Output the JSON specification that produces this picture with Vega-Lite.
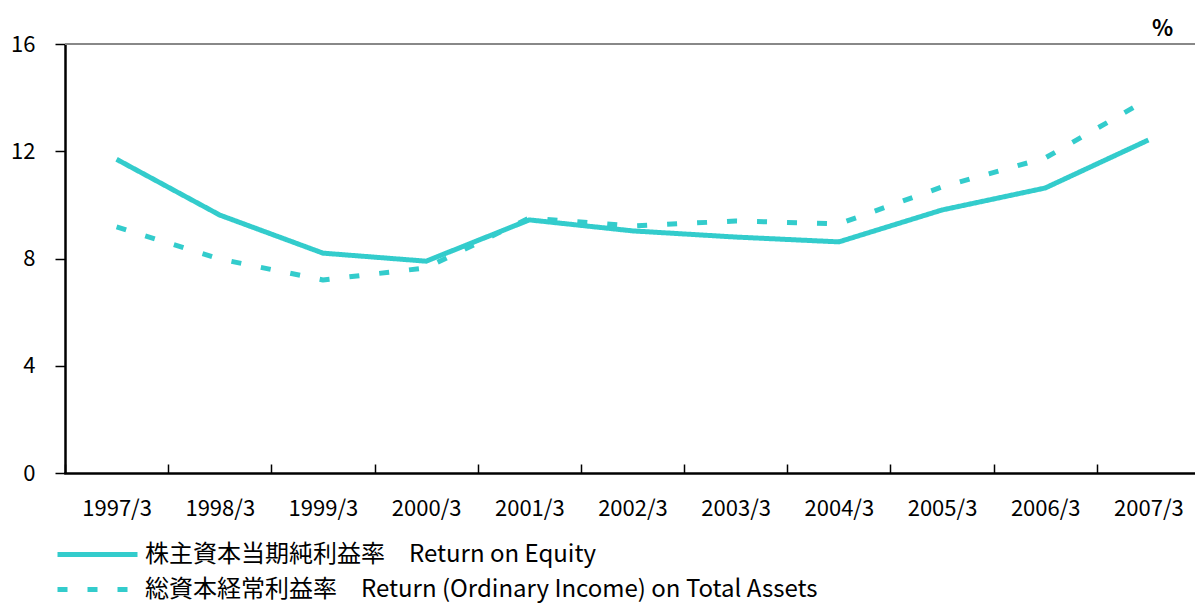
{
  "$schema": "https://vega.github.io/schema/vega-lite/v6.json",
  "width": 1135,
  "height": 429,
  "autosize": {"type": "none"},
  "padding": {"left": 65, "top": 44, "right": 0, "bottom": 130},
  "background": "white",
  "config": {"view": {"stroke": null}},
  "data": {"values": [
    {"year": "1997/3", "series": "株主資本当期純利益率　Return on Equity", "value": 11.7},
    {"year": "1998/3", "series": "株主資本当期純利益率　Return on Equity", "value": 9.62},
    {"year": "1999/3", "series": "株主資本当期純利益率　Return on Equity", "value": 8.2},
    {"year": "2000/3", "series": "株主資本当期純利益率　Return on Equity", "value": 7.9},
    {"year": "2001/3", "series": "株主資本当期純利益率　Return on Equity", "value": 9.44},
    {"year": "2002/3", "series": "株主資本当期純利益率　Return on Equity", "value": 9.03},
    {"year": "2003/3", "series": "株主資本当期純利益率　Return on Equity", "value": 8.8},
    {"year": "2004/3", "series": "株主資本当期純利益率　Return on Equity", "value": 8.62},
    {"year": "2005/3", "series": "株主資本当期純利益率　Return on Equity", "value": 9.81},
    {"year": "2006/3", "series": "株主資本当期純利益率　Return on Equity", "value": 10.63},
    {"year": "2007/3", "series": "株主資本当期純利益率　Return on Equity", "value": 12.42},
    {"year": "1997/3", "series": "総資本経常利益率　Return (Ordinary Income) on Total Assets", "value": 9.18},
    {"year": "1998/3", "series": "総資本経常利益率　Return (Ordinary Income) on Total Assets", "value": 7.98},
    {"year": "1999/3", "series": "総資本経常利益率　Return (Ordinary Income) on Total Assets", "value": 7.2},
    {"year": "2000/3", "series": "総資本経常利益率　Return (Ordinary Income) on Total Assets", "value": 7.65},
    {"year": "2001/3", "series": "総資本経常利益率　Return (Ordinary Income) on Total Assets", "value": 9.51},
    {"year": "2002/3", "series": "総資本経常利益率　Return (Ordinary Income) on Total Assets", "value": 9.21},
    {"year": "2003/3", "series": "総資本経常利益率　Return (Ordinary Income) on Total Assets", "value": 9.4},
    {"year": "2004/3", "series": "総資本経常利益率　Return (Ordinary Income) on Total Assets", "value": 9.29},
    {"year": "2005/3", "series": "総資本経常利益率　Return (Ordinary Income) on Total Assets", "value": 10.67},
    {"year": "2006/3", "series": "総資本経常利益率　Return (Ordinary Income) on Total Assets", "value": 11.75},
    {"year": "2007/3", "series": "総資本経常利益率　Return (Ordinary Income) on Total Assets", "value": 13.95}
  ]},
  "layer": [
    {
      "mark": {"type": "rule", "color": "#888888", "strokeWidth": 1.5},
      "encoding": {"y": {"datum": 16, "type": "quantitative", "scale": {"domain": [0, 16]}}}
    },
    {
      "mark": {"type": "line", "strokeWidth": 5, "strokeCap": "butt", "strokeJoin": "round", "color": "#33CCCC"},
      "encoding": {
        "x": {
          "field": "year", "type": "ordinal", "bandPosition": 0.5,
          "scale": {"type": "band", "paddingInner": 0, "paddingOuter": 0},
          "axis": {
            "title": null, "labelAngle": 0, "tickBand": "extent",
            "domainColor": "black", "domainWidth": 2.5, "domainCap": "square",
            "tickColor": "black", "tickWidth": 1.5, "tickSize": -9,
            "labelFont": "Noto Sans CJK JP", "labelFontSize": 22, "labelColor": "black",
            "labelPadding": 34
          }
        },
        "y": {
          "field": "value", "type": "quantitative",
          "scale": {"domain": [0, 16]},
          "axis": {
            "values": [0, 4, 8, 12, 16], "grid": false,
            "domainColor": "black", "domainWidth": 2.5,
            "tickColor": "black", "tickWidth": 1.5, "tickSize": 10,
            "labelFont": "Noto Sans CJK JP", "labelFontSize": 22, "labelColor": "black",
            "labelPadding": 20,
            "title": "%", "titleAngle": 0, "titleX": 1097, "titleY": -16,
            "titleAlign": "center", "titleBaseline": "middle",
            "titleFont": "Noto Sans CJK JP", "titleFontSize": 22, "titleFontWeight": "bold", "titleColor": "black"
          }
        },
        "strokeDash": {
          "field": "series", "type": "nominal",
          "sort": ["株主資本当期純利益率　Return on Equity", "総資本経常利益率　Return (Ordinary Income) on Total Assets"],
          "scale": {"range": [[1, 0], [10, 20]]},
          "legend": {
            "title": null, "orient": "none", "legendX": 20, "legendY": 498,
            "direction": "vertical", "symbolType": "M-4,0H4", "symbolSize": 400,
            "symbolStrokeColor": "#33CCCC", "symbolStrokeWidth": 5, "padding": 0, "rowPadding": 10, "labelOffset": 35,
            "labelFont": "Noto Sans CJK JP", "labelFontSize": 24, "labelFontWeight": "normal", "labelColor": "black", "labelLimit": 1000,
            "encode": {"symbols": {"update": {"strokeDash": {"signal": "indexof(datum.value, 'Total') >= 0 ? [10, 12] : [1, 0]"}}}}
          }
        }
      }
    }
  ]
}
